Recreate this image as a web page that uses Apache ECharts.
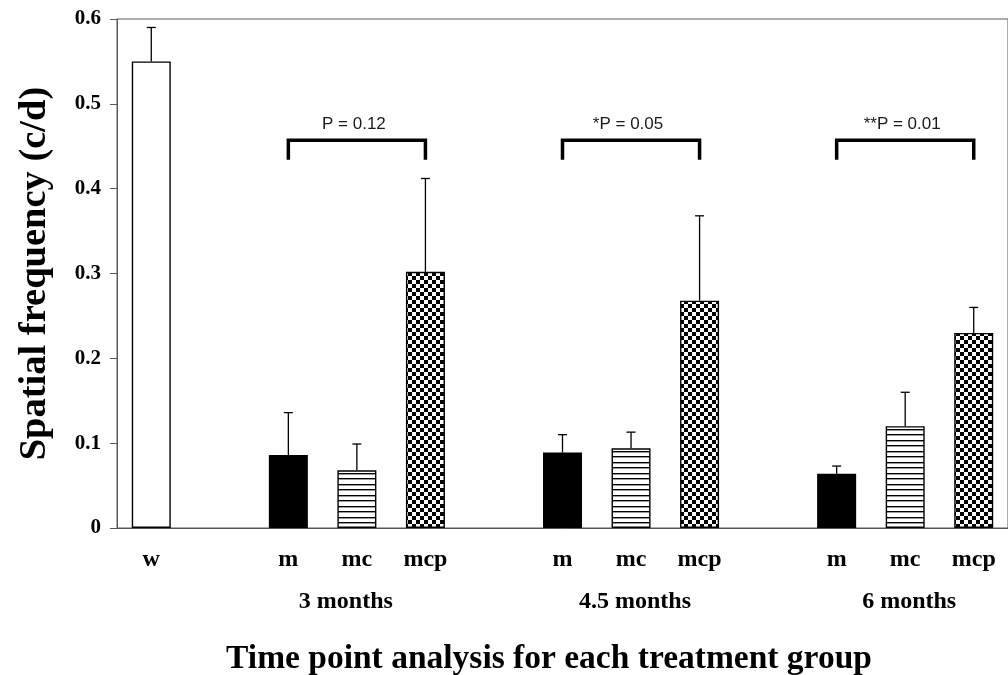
<!DOCTYPE html>
<html>
<head>
<meta charset="utf-8">
<script src="https://cdn.jsdelivr.net/npm/echarts@6/dist/echarts.min.js"></script>
<style>
  html, body { margin: 0; padding: 0; background: #fff; }
  #chart { width: 1008px; height: 675px; }
</style>
</head>
<body>
<div id="chart"></div>
<script>
// ---- data ----
const categories = ['w', '', 'm', 'mc', 'mcp', '', 'm', 'mc', 'mcp', '', 'm', 'mc', 'mcp'];
const groupLabels = ['3 months', '4.5 months', '6 months'];
const wMean = [0.55];
const wUpper = [0.59];
const mMean = [0.086, 0.089, 0.064];
const mUpper = [0.136, 0.110, 0.073];
const mcMean = [0.068, 0.094, 0.120];
const mcUpper = [0.099, 0.113, 0.160];
const mcpMean = [0.302, 0.268, 0.230];
const mcpUpper = [0.412, 0.368, 0.260];
const pLabels = ['P = 0.12', '*P = 0.05', '**P = 0.01'];
const bracketLow = 0.434;
const bracketHigh = 0.457;
const yTicks = [0, 0.1, 0.2, 0.3, 0.4, 0.5, 0.6];
const xTitle = 'Time point analysis for each treatment group';
const yTitle = 'Spatial frequency (c/d)';

// ---- layout (not data) ----
const groupLabelPadding = [[0, 22, 0, 0], [0, 0, 0, 8], [0, 0, 0, 8]];

// ---- helpers ----
function slotsOf(name) {
  const out = [];
  categories.forEach((c, i) => { if (c === name) out.push(i); });
  return out;
}
function alignTo(name, values) {
  const slots = slotsOf(name);
  const arr = categories.map(() => '-');
  slots.forEach((s, k) => { arr[s] = values[k]; });
  return arr;
}
function errorData(name, means, uppers) {
  return slotsOf(name).map((s, k) => [s, means[k], uppers[k]]);
}
function stripePattern() {
  const c = document.createElement('canvas');
  c.width = 8; c.height = 11;
  const ctx = c.getContext('2d');
  ctx.fillStyle = '#fff'; ctx.fillRect(0, 0, 8, 11);
  ctx.fillStyle = '#000';
  ctx.fillRect(0, 0, 8, 1); ctx.fillRect(0, 5, 8, 1);
  ctx.fillStyle = '#9a9a9a';
  ctx.fillRect(0, 1, 8, 1); ctx.fillRect(0, 6, 8, 1);
  return c;
}
function checkerPattern() {
  const c = document.createElement('canvas');
  c.width = 8; c.height = 8;
  const ctx = c.getContext('2d');
  ctx.fillStyle = '#fff'; ctx.fillRect(0, 0, 8, 8);
  ctx.fillStyle = '#000';
  ctx.fillRect(0, 0, 4, 4); ctx.fillRect(4, 4, 4, 4);
  return c;
}

const mcSlots = slotsOf('mc');
const mSlots = slotsOf('m');
const mcpSlots = slotsOf('mcp');

const serif = '"Liberation Serif", "Times New Roman", serif';
const axisGray = '#595959';

const barBase = { type: 'bar', stack: 'all', barWidth: 39, z: 2 };
const border = { borderColor: '#000', borderWidth: 1.4 };

const errAll = [].concat(
  errorData('w', wMean, wUpper),
  errorData('m', mMean, mUpper),
  errorData('mc', mcMean, mcUpper),
  errorData('mcp', mcpMean, mcpUpper)
);
const bracketData = mSlots.map((s, k) => [s, mcpSlots[k], bracketLow, bracketHigh]);

const rich = {
  a: { fontFamily: serif, fontWeight: 'bold', fontSize: 24, color: '#000', lineHeight: 26 }
};
groupLabels.forEach((g, k) => {
  rich['b' + k] = { fontFamily: serif, fontWeight: 'bold', fontSize: 24, color: '#000', lineHeight: 58, padding: groupLabelPadding[k] };
});

const chart = echarts.init(document.getElementById('chart'), null, { renderer: 'canvas' });
chart.setOption({
  animation: false,
  backgroundColor: '#fff',
  grid: { left: 117, top: 19, width: 901, height: 509, show: true, borderColor: axisGray, borderWidth: 1, backgroundColor: 'transparent' },
  xAxis: {
    type: 'category',
    data: categories,
    axisLine: { lineStyle: { color: axisGray, width: 1 } },
    axisTick: { show: false },
    axisLabel: {
      interval: 0,
      margin: 19,
      formatter: function (v, i) {
        const g = mcSlots.indexOf(i);
        if (g >= 0) return '{a|' + v + '}\n{b' + g + '|' + groupLabels[g] + '}';
        return '{a|' + v + '}';
      },
      rich: rich
    }
  },
  yAxis: {
    type: 'value',
    min: 0, max: 0.6, interval: 0.1,
    splitLine: { show: false },
    axisLine: { show: true, lineStyle: { color: axisGray, width: 1 } },
    axisTick: { show: true, length: 7, lineStyle: { color: axisGray } },
    axisLabel: {
      margin: 16,
      fontFamily: serif, fontWeight: 'bold', fontSize: 21, color: '#000',
      formatter: function (v) { return String(yTicks.find(t => Math.abs(t - v) < 1e-9)); }
    },
    name: yTitle,
    nameLocation: 'middle',
    nameGap: 62,
    nameTextStyle: { fontFamily: serif, fontWeight: 'bold', fontSize: 38.5, color: '#000' }
  },
  graphic: [{
    type: 'text',
    x: 549, y: 659,
    style: { text: xTitle, fontFamily: serif, fontWeight: 'bold', fontSize: 33.5, fill: '#000', align: 'center', verticalAlign: 'middle' }
  }],
  series: [
    Object.assign({}, barBase, { name: 'w', data: alignTo('w', wMean), itemStyle: Object.assign({ color: '#fff' }, border) }),
    Object.assign({}, barBase, { name: 'm', data: alignTo('m', mMean), itemStyle: Object.assign({ color: '#000' }, border) }),
    Object.assign({}, barBase, { name: 'mc', data: alignTo('mc', mcMean), itemStyle: Object.assign({ color: { image: stripePattern(), repeat: 'repeat' } }, border) }),
    Object.assign({}, barBase, { name: 'mcp', data: alignTo('mcp', mcpMean), itemStyle: Object.assign({ color: { image: checkerPattern(), repeat: 'repeat' } }, border) }),
    {
      type: 'custom', name: 'error', z: 3,
      data: errAll,
      renderItem: function (params, api) {
        const p0 = api.coord([api.value(0), api.value(1)]);
        const p1 = api.coord([api.value(0), api.value(2)]);
        const st = { stroke: '#000', lineWidth: 1.3 };
        return { type: 'group', children: [
          { type: 'line', shape: { x1: p0[0], y1: p0[1], x2: p1[0], y2: p1[1] }, style: st },
          { type: 'line', shape: { x1: p1[0] - 4.5, y1: p1[1], x2: p1[0] + 4.5, y2: p1[1] }, style: st }
        ] };
      }
    },
    {
      type: 'custom', name: 'brackets', z: 3,
      data: bracketData,
      renderItem: function (params, api) {
        const a = api.coord([api.value(0), api.value(2)]);
        const b = api.coord([api.value(0), api.value(3)]);
        const c = api.coord([api.value(1), api.value(3)]);
        const d = api.coord([api.value(1), api.value(2)]);
        return { type: 'group', children: [
          { type: 'polyline', shape: { points: [a, b, c, d] }, style: { stroke: '#000', lineWidth: 3.5, fill: null, lineJoin: 'miter', lineCap: 'butt' } },
          { type: 'text', x: (b[0] + c[0]) / 2 - 3, y: b[1] - 16, style: { text: pLabels[params.dataIndex], fontFamily: '"Liberation Sans", Arial, sans-serif', fontSize: 17, fill: '#1a1a1a', align: 'center', verticalAlign: 'middle' } }
        ] };
      }
    }
  ]
});
</script>
</body>
</html>
